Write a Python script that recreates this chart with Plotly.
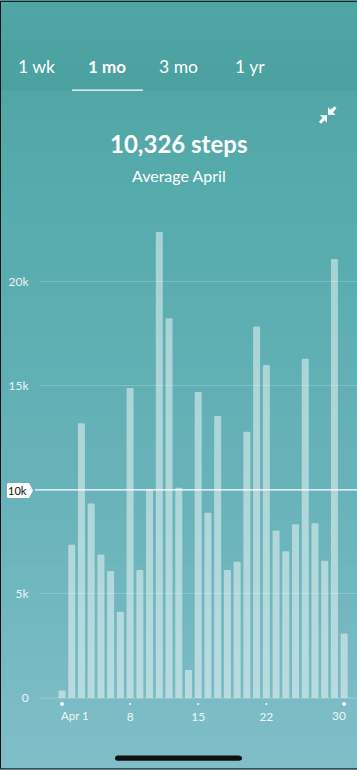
import plotly.graph_objects as go

days = list(range(1, 31))
steps = [360, 7360, 13200, 9350, 6900, 6100, 4150, 14900, 6150, 10050,
         22400, 18250, 10100, 1350, 14700, 8900, 13550, 6150, 6550, 12800,
         17850, 16000, 8050, 7050, 8350, 16300, 8400, 6600, 21100, 3100]
y_ticks = [0, 5000, 15000, 20000]
y_labels = ["0", "5k", "15k", "20k"]
x_ticks = [8, 15, 22]
x_labels = ["8", "15", "22"]
dot_days_small = [8, 15, 22]
dot_days_big = [1, 30]
avg_line = 10000
tabs = ["1 wk", "1 mo", "3 mo", "1 yr"]

W, H = 357, 770
L, T, B = 39, 198.5, 71.5
PW, PH = W - L, H - T - B
FONT = "Lato"
WHITE = "#ffffff"

def px(p):
    return (p - L) / PW

def py(p):
    return (H - B - p) / PH

def lerp(a, b, t):
    return a + (b - a) * t

stops = [(0, (80, 165, 165)), (89, (75, 161, 160)), (90, (82, 166, 166)),
         (200, (86, 171, 172)), (500, (105, 179, 186)), (770, (128, 190, 200))]

def grad_color(p):
    for (p0, c0), (p1, c1) in zip(stops, stops[1:]):
        if p <= p1:
            t = (p - p0) / (p1 - p0)
            return "rgb(%d,%d,%d)" % tuple(round(lerp(a, b, t)) for a, b in zip(c0, c1))
    return "rgb(%d,%d,%d)" % stops[-1][1]

shapes = []
# each band runs to the bottom edge and the next one paints over it, so no seams show
for p in range(0, H, 3):
    shapes.append(dict(type="rect", xref="paper", yref="paper", layer="below",
                       x0=px(0), x1=px(W), y0=py(p), y1=py(H),
                       fillcolor=grad_color(p + 1), line_width=0))

def path(points, close=True):
    s = "M " + " L ".join(f"{px(a):.5f},{py(b):.5f}" for a, b in points)
    return s + (" Z" if close else "")

# average line and its badge
shapes.append(dict(type="line", xref="paper", yref="y", x0=px(35), x1=px(W), y0=avg_line, y1=avg_line,
                   line=dict(color=WHITE, width=1.2), layer="above"))
shapes.append(dict(type="path", xref="paper", yref="paper", layer="above", fillcolor=WHITE, line_width=0,
                   path=path([(8, 483), (29, 483), (33, 490.5), (29, 498), (8, 498), (7, 497), (7, 484)])))
# baseline starts left of the first bar
shapes.append(dict(type="line", xref="paper", yref="paper", x0=px(39), x1=px(W), y0=py(698.7), y1=py(698.7),
                   line=dict(color="rgba(255,255,255,0.25)", width=1), layer="below"))
# tab underline
shapes.append(dict(type="line", xref="paper", yref="paper", x0=px(72), x1=px(143), y0=py(89.5), y1=py(89.5),
                   line=dict(color=WHITE, width=1.2)))
# collapse icon
shapes.append(dict(type="path", xref="paper", yref="paper", fillcolor=WHITE, line_width=0,
                   path=path([(328, 114), (328, 106.5), (330.5, 109), (334.5, 105.5), (336.5, 107.5),
                              (333, 111.5), (335.5, 114)])))
shapes.append(dict(type="path", xref="paper", yref="paper", fillcolor=WHITE, line_width=0,
                   path=path([(327, 114.5), (327, 122), (324.5, 119.5), (321, 123), (319, 121),
                              (322.5, 117), (320, 114.5)])))
# home indicator
shapes.append(dict(type="path", xref="paper", yref="paper", fillcolor="#111111", line_width=0,
                   path=path([(117, 756), (239, 756), (241.5, 757), (242, 759), (241.5, 760.5), (239, 761.5),
                              (117, 761.5), (115.5, 760.5), (115, 759), (115.5, 757)])))
# screenshot edge
shapes.append(dict(type="path", xref="paper", yref="paper", fillcolor="rgba(0,0,0,0)",
                   line=dict(color="#111111", width=1),
                   path=path([(W, 0.5), (0.5, 0.5), (0.5, 769.5), (W, 769.5)], close=False)))
# tick dots
for d in dot_days_small + dot_days_big:
    r = 2 if d in dot_days_big else 1
    shapes.append(dict(type="circle", xref="x", yref="paper", xsizemode="pixel", ysizemode="pixel",
                       xanchor=d, yanchor=py(704.5), x0=-r, x1=r, y0=-r, y1=r,
                       fillcolor=WHITE, line_width=0))

def txt(x, y, text, size, color=WHITE, anchor="center"):
    return dict(xref="paper", yref="paper", x=px(x), y=py(y), text=text, showarrow=False,
                xanchor=anchor, yanchor="middle", font=dict(family=FONT, size=size, color=color))

tab_x = [36, 107, 178.5, 250]
ann = []
for name, x in zip(tabs, tab_x):
    label = f"<b>{name}</b>" if name == "1 mo" else name
    ann.append(txt(x, 66, label, 17.5 if name != "1 mo" else 17))
ann.append(txt(178.5, 143, "<b>10,326 steps</b>", 24))
ann.append(txt(178.5, 174.5, "Average April", 16))
ann.append(txt(17, 490.5, "10k", 11, "#111111"))
ann.append(txt(58.5, 716, "Apr 1", 11.5, "rgba(255,255,255,0.9)", "left"))
ann.append(txt(348, 716, "30", 12, "rgba(255,255,255,0.9)", "right"))

fig = go.Figure(go.Bar(x=days, y=steps, width=0.72, marker=dict(color="rgba(255,255,255,0.47)", line_width=0)))
fig.update_layout(
    width=W, height=H, autosize=False,
    margin=dict(l=L, r=0, t=T, b=B, pad=0),
    paper_bgcolor="#4fa4a4", plot_bgcolor="rgba(0,0,0,0)",
    showlegend=False, shapes=shapes, annotations=ann, barcornerradius=1,
    font=dict(family=FONT, color=WHITE),
    xaxis=dict(range=[1 - (62 - L) / 9.73, 1 + (W - 62) / 9.73], tickvals=x_ticks, ticktext=x_labels,
               showgrid=False, zeroline=False, showline=False, ticks="outside", ticklen=8,
               tickcolor="rgba(0,0,0,0)", tickfont=dict(size=12, color="rgba(255,255,255,0.9)", family=FONT)),
    yaxis=dict(range=[0, 500 / 0.02085], tickvals=y_ticks, ticktext=y_labels, showgrid=True,
               gridcolor="rgba(255,255,255,0.2)", gridwidth=1, zeroline=False, showline=False,
               ticks="outside", ticklen=7, tickcolor="rgba(0,0,0,0)",
               tickfont=dict(size=12, color="rgba(255,255,255,0.9)", family=FONT)),
)
fig.write_html("out.html", config=dict(displayModeBar=False),
               post_script="document.body.style.margin='0';window.dispatchEvent(new Event('resize'));")
